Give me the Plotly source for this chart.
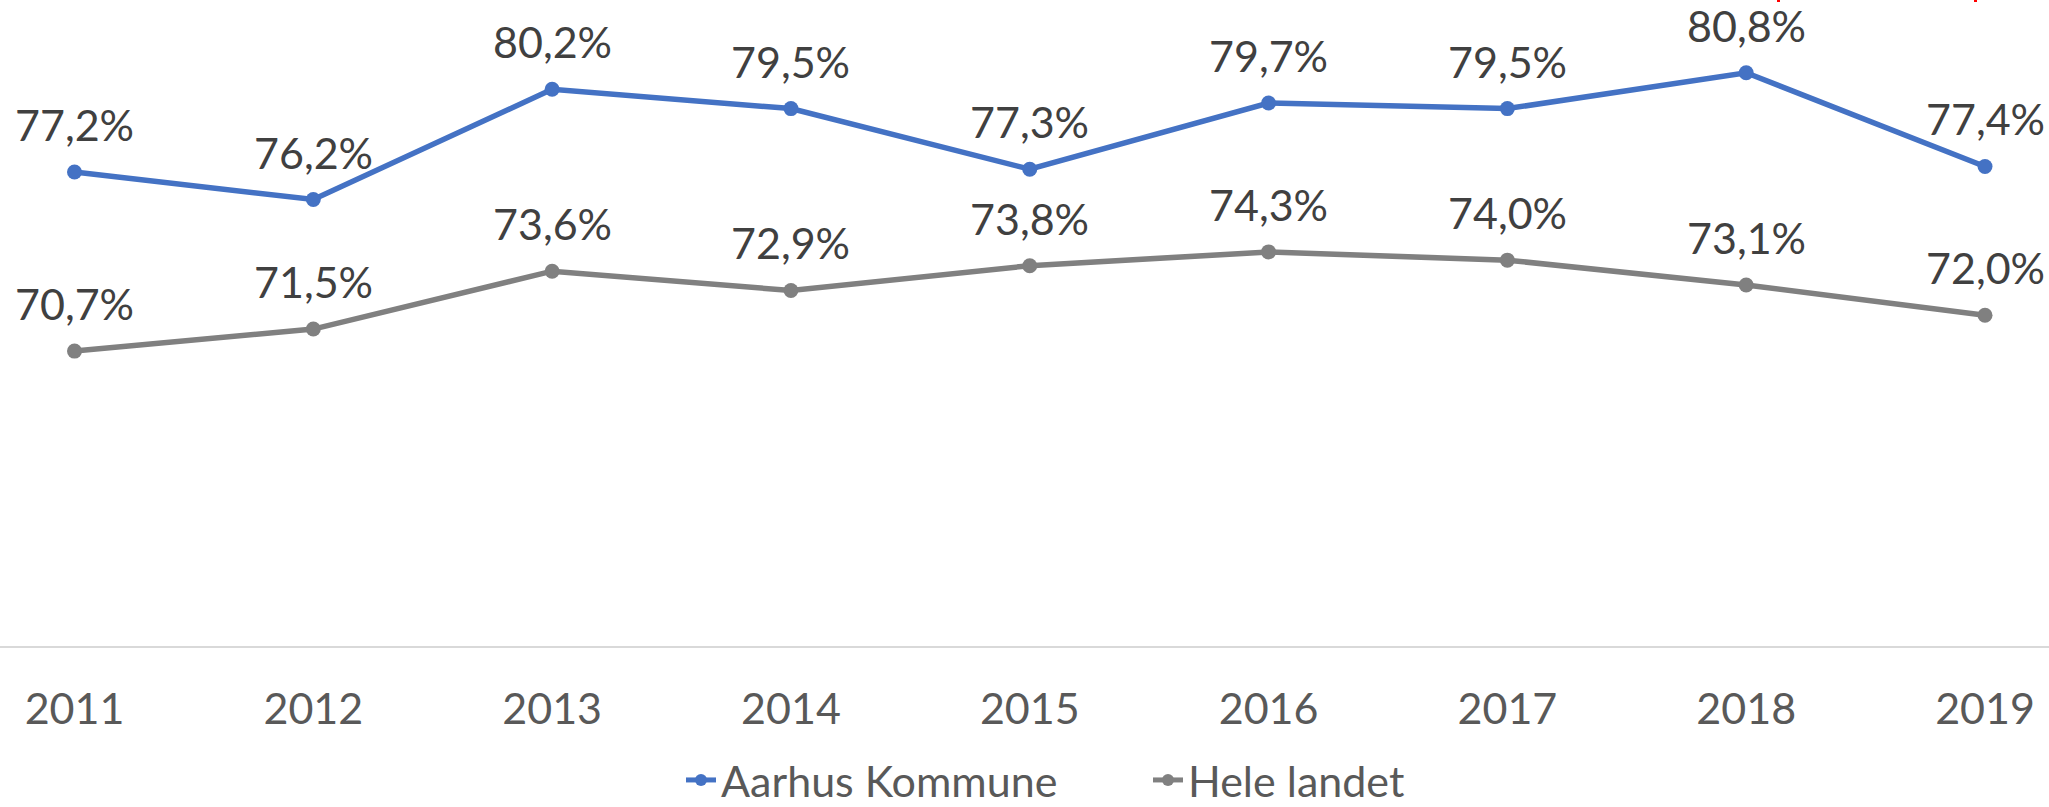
import plotly.graph_objects as go

years = [2011, 2012, 2013, 2014, 2015, 2016, 2017, 2018, 2019]
aarhus = [77.2, 76.2, 80.2, 79.5, 77.3, 79.7, 79.5, 80.8, 77.4]
hele = [70.7, 71.5, 73.6, 72.9, 73.8, 74.3, 74.0, 73.1, 72.0]
series_names = ["Aarhus Kommune", "Hele landet"]
series_colors = ["#4472C4", "#808080"]

W, H = 2049, 807
FONT = "Lato"

def fmt(v):
    return f"{v:.1f}".replace(".", ",") + "%"

fig = go.Figure()
annotations = []
for name, vals, col in zip(series_names, [aarhus, hele], series_colors):
    fig.add_trace(go.Scatter(
        x=years, y=vals, name=name,
        mode="lines+markers",
        line=dict(color=col, width=5.5),
        marker=dict(color=col, size=15),
        cliponaxis=False,
    ))
    for xv, yv in zip(years, vals):
        annotations.append(dict(
            x=xv, y=yv, xref="x", yref="y", text=fmt(yv),
            showarrow=False, xanchor="center", yanchor="bottom", yshift=20,
            font=dict(family=FONT, size=43, color="#404040"),
        ))

fig.update_layout(
    width=W, height=H,
    margin=dict(l=0, r=0, t=0, b=161, autoexpand=False),
    paper_bgcolor="white", plot_bgcolor="white",
    showlegend=True,
    legend=dict(
        orientation="h", x=681 / W, xanchor="left",
        y=-(780 - 646) / 646, yanchor="middle",
        font=dict(family=FONT, size=43, color="#595959"),
        entrywidth=422, entrywidthmode="pixels",
        itemsizing="constant", borderwidth=0, bgcolor="rgba(0,0,0,0)",
        tracegroupgap=0,
    ),
    xaxis=dict(
        range=[2010.688, 2019.268], automargin=False,
        tickmode="array", tickvals=years, ticktext=[str(y) for y in years],
        tickfont=dict(family=FONT, size=43, color="#595959"),
        showgrid=False, zeroline=False,
        showline=True, linecolor="#D9D9D9", linewidth=2,
        ticks="", ticklabelstandoff=24,
    ),
    yaxis=dict(
        range=[60, 83.44], showgrid=False, zeroline=False, automargin=False,
        showticklabels=False, showline=False,
    ),
    annotations=annotations,
    shapes=[
        dict(type="rect", xref="paper", yref="paper",
             x0=1777 / W, x1=1780 / W, y0=1 - 2 / 646, y1=1,
             fillcolor="red", line=dict(width=0)),
        dict(type="rect", xref="paper", yref="paper",
             x0=1974 / W, x1=1977 / W, y0=1 - 2 / 646, y1=1,
             fillcolor="red", line=dict(width=0)),
    ],
)

fig.write_html(
    "out.html",
    config={"displayModeBar": False},
    post_script="document.body.style.margin='0';document.body.style.overflow='hidden';",
)
